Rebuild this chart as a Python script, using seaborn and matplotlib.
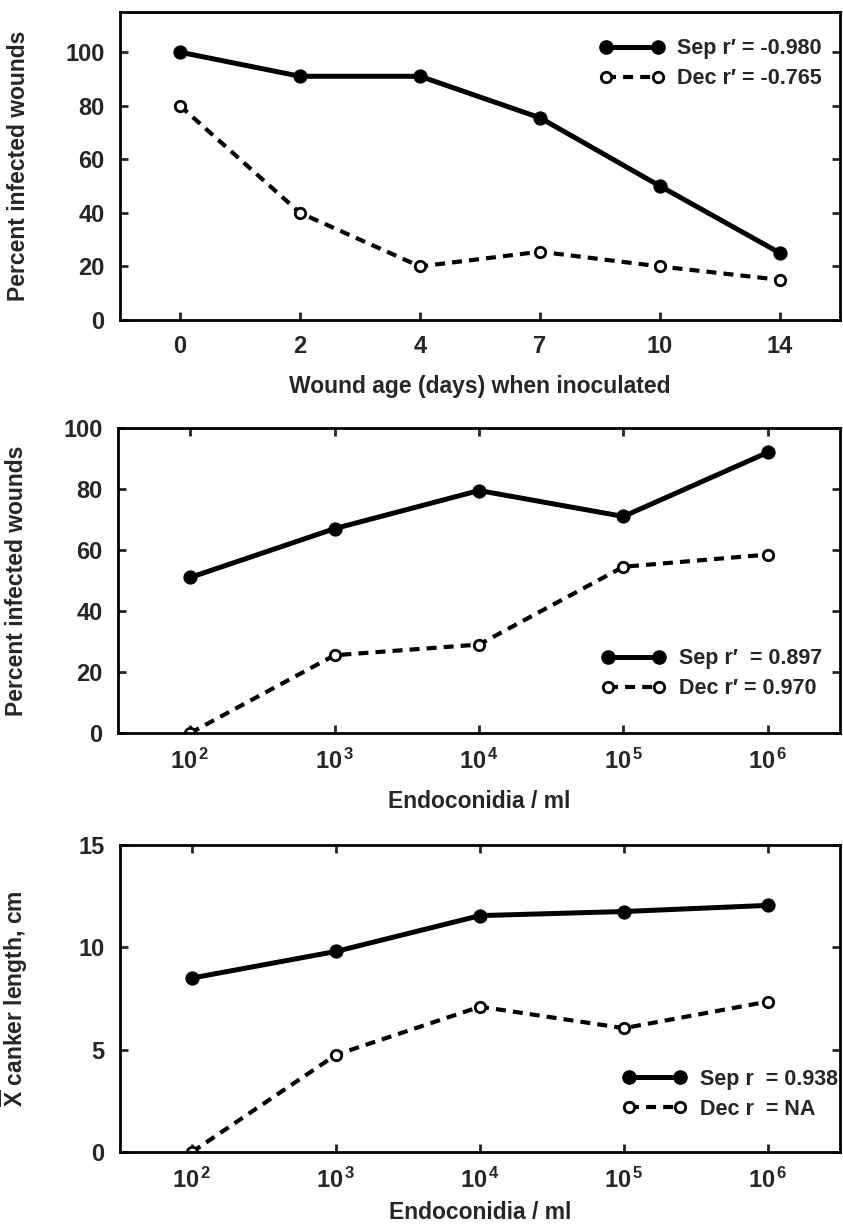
import numpy as np
import pandas as pd
import seaborn as sns
import matplotlib.pyplot as plt
from matplotlib.lines import Line2D

# Panel A: wound age
wound_age = ["0", "2", "4", "7", "10", "14"]
sep_age = [100, 91, 91, 75.5, 50, 25]
dec_age = [80, 40, 20, 25.5, 20, 15]

# Panel B/C: inoculum concentration
conc_labels = [r"$\mathregular{10^{\,2}}$", r"$\mathregular{10^{\,3}}$", r"$\mathregular{10^{\,4}}$",
               r"$\mathregular{10^{\,5}}$", r"$\mathregular{10^{\,6}}$"]
sep_conc = [51, 67, 79.5, 71, 92]
dec_conc = [0, 25.5, 29, 54.5, 58.5]
sep_canker = [8.5, 9.8, 11.55, 11.75, 12.05]
dec_canker = [0, 4.75, 7.1, 6.05, 7.35]

legend_a = ["Sep r\u2032 = -0.980", "Dec r\u2032 = -0.765"]
legend_b = ["Sep r\u2032  = 0.897", "Dec r\u2032 = 0.970"]
legend_c = ["Sep r  = 0.938", "Dec r  = NA"]

sns.set_theme(style="ticks")
plt.rcParams["font.family"] = ["Liberation Sans", "DejaVu Sans"]
plt.rcParams["font.weight"] = "bold"
plt.rcParams["mathtext.fontset"] = "custom"
plt.rcParams["mathtext.rm"] = "Liberation Sans:bold"
plt.rcParams["mathtext.it"] = "Liberation Sans:bold"
plt.rcParams["mathtext.bf"] = "Liberation Sans:bold"

fig = plt.figure(figsize=(8.43, 12.28), dpi=100)
W, H = 843, 1228


def add_axes(left, top, right, bottom):
    return fig.add_axes([left / W, 1 - bottom / H, (right - left) / W, (bottom - top) / H])


ax1 = add_axes(120, 12, 840, 320)
ax2 = add_axes(118, 428, 840, 733)
ax3 = add_axes(120, 845, 840, 1152)

sep_kw = dict(color="black", linestyle="-", linewidth=3.6, marker="o", markersize=9.5,
              markerfacecolor="black", markeredgecolor="black")
dec_kw = dict(color="black", linestyle=(0, (2.4, 1.7)), linewidth=3.0, marker="o", markersize=7.5,
              markerfacecolor="white", markeredgecolor="black", markeredgewidth=2)


def draw(ax, cats, sep, dec, labels, ylim, yticks, xlabel, ylabel, top_ticks, loc, anchor, xpad):
    df = pd.DataFrame({"x": cats, "sep": sep, "dec": dec})
    sns.lineplot(data=df, x="x", y="sep", ax=ax, sort=False, label=labels[0], **sep_kw)
    sns.lineplot(data=df, x="x", y="dec", ax=ax, sort=False, label=labels[1], **dec_kw)
    ax.set_xlim(-0.5, len(cats) - 0.5)
    ax.set_ylim(*ylim)
    ax.set_yticks(yticks)
    ax.set_xlabel(xlabel, fontsize=16.5, fontweight="bold", labelpad=xpad)
    ax.set_ylabel(ylabel, fontsize=16.5, fontweight="bold")
    ax.tick_params(axis="both", direction="in", length=6, width=2, labelsize=17,
                   top=top_ticks, right=True, pad=11)
    for s in ax.spines.values():
        s.set_linewidth(2)
        s.set_color("black")
    for lab in ax.get_xticklabels() + ax.get_yticklabels():
        lab.set_fontweight("bold")
    handles = [Line2D([], [], **sep_kw), Line2D([], [], **dec_kw)]
    ax.legend(handles, labels, loc=loc, bbox_to_anchor=anchor, frameon=False, handlelength=3.0,
              numpoints=2, prop={"weight": "bold", "size": 15.5}, borderaxespad=0, borderpad=0,
              labelspacing=0.42, handletextpad=0.6)
    ax.yaxis.set_label_coords(-0.125, 0.5)


draw(ax1, wound_age, sep_age, dec_age, legend_a, (0, 115), [0, 20, 40, 60, 80, 100],
     "Wound age (days) when inoculated", "Percent infected wounds", False,
     "upper right", (0.975, 0.915), 12)
draw(ax2, conc_labels, sep_conc, dec_conc, legend_b, (0, 100), [0, 20, 40, 60, 80, 100],
     "Endoconidia / ml", "Percent infected wounds", True,
     "lower right", (0.975, 0.11), 12)
draw(ax3, conc_labels, sep_canker, dec_canker, legend_c, (0, 15), [0, 5, 10, 15],
     "Endoconidia / ml", r"$\overline{\mathregular{X}}$ canker length, cm", True,
     "lower right", (0.997, 0.105), 6)

fig.savefig("out.png", dpi=100, facecolor="white")
